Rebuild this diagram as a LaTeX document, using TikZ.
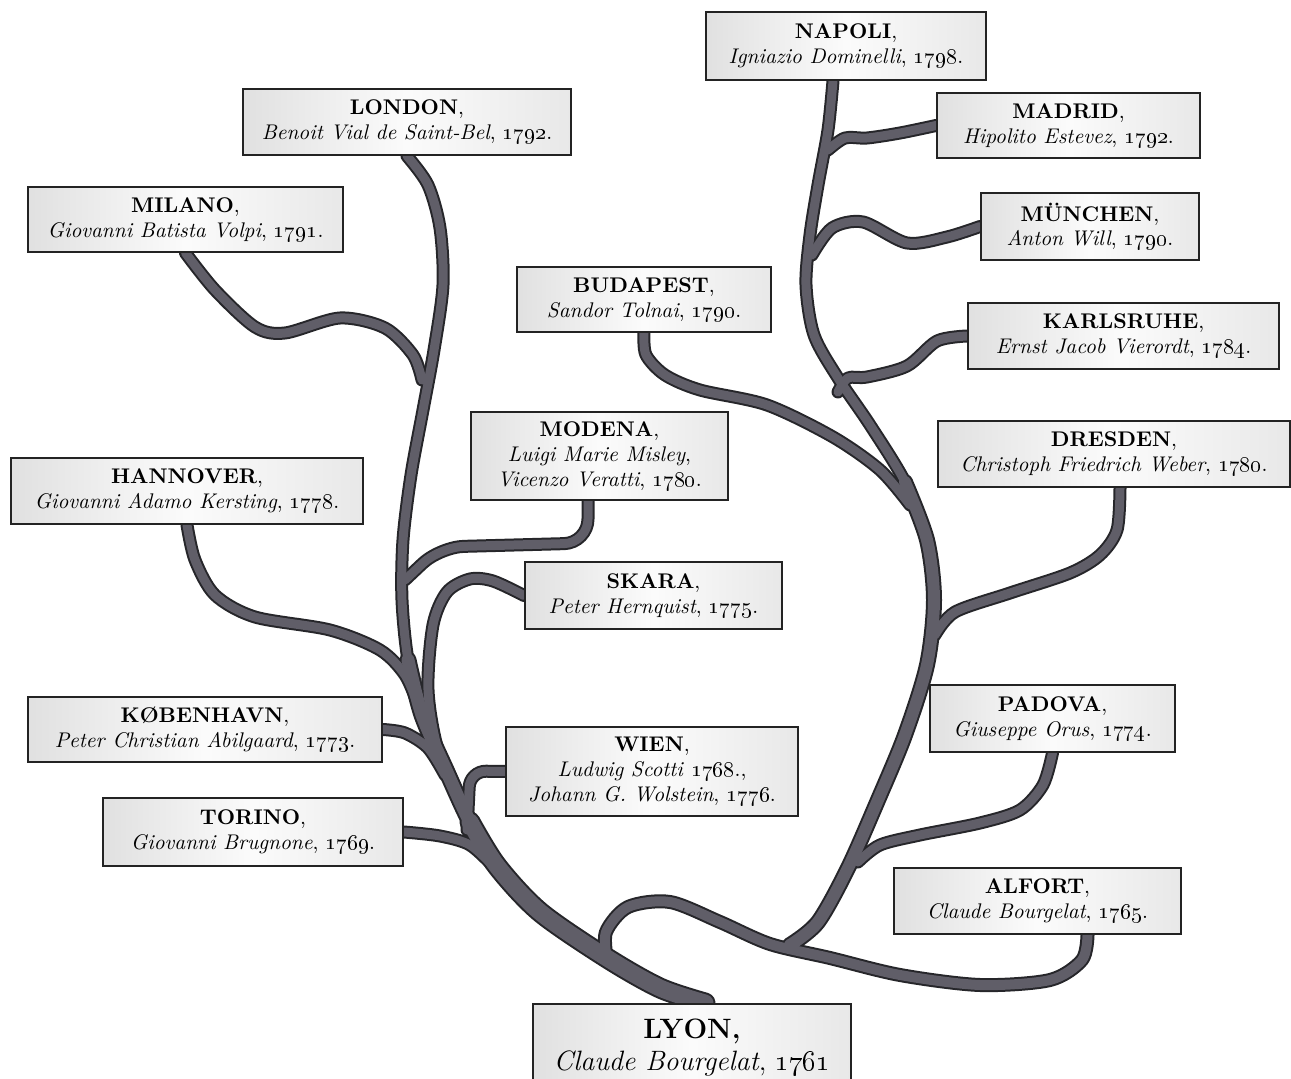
\documentclass[tikz,border=0pt]{standalone}
\usetikzlibrary{backgrounds}
\definecolor{limbfill}{RGB}{96,94,104}
\definecolor{limbedge}{RGB}{38,38,42}
\definecolor{plateedge}{RGB}{35,35,35}
\newcommand\oyear[1]{\oldstylenums{#1}}
\begin{document}
\begin{tikzpicture}[x=0.5pt,y=0.5pt,yscale=-1,
    plate/.style={draw=plateedge, line width=1pt, left color=gray!24, right color=gray!18, middle color=gray!3, align=center, inner sep=0pt, font=\fontsize{10.6}{12.4}\selectfont},
    limb/.style={draw=\tint, line width=(#1+\rim)*0.5pt, line cap=round, line join=round}]
\useasboundingbox (0,0) rectangle (1291,1079);
\clip (0,0) rectangle (1291,1079);
% Plates
\node[plate, minimum width=140pt, minimum height=34pt] (napoli) at (846,46) {\textbf{NAPOLI},\\\textit{Igniazio Dominelli}, \oyear{1798}.};
\node[plate, minimum width=164pt, minimum height=33pt] (london) at (407,122) {\textbf{LONDON},\\\textit{Benoit Vial de Saint-Bel}, \oyear{1792}.};
\node[plate, minimum width=131.5pt, minimum height=32.5pt] (madrid) at (1068.5,125.5) {\textbf{MADRID},\\\textit{Hipolito Estevez}, \oyear{1792}.};
\node[plate, minimum width=157.5pt, minimum height=32.5pt] (milano) at (185.5,219.5) {\textbf{MILANO},\\\textit{Giovanni Batista Volpi}, \oyear{1791}.};
\node[plate, minimum width=109pt, minimum height=33.5pt] (muenchen) at (1090,226.5) {\textbf{MÜNCHEN},\\\textit{Anton Will}, \oyear{1790}.};
\node[plate, minimum width=127pt, minimum height=32.5pt] (budapest) at (644,299.5) {\textbf{BUDAPEST},\\\textit{Sandor Tolnai}, \oyear{1790}.};
\node[plate, minimum width=155.5pt, minimum height=33pt] (karlsruhe) at (1123.5,336) {\textbf{KARLSRUHE},\\\textit{Ernst Jacob Vierordt}, \oyear{1784}.};
\node[plate, minimum width=128.5pt, minimum height=44pt] (modena) at (599.5,456) {\textbf{MODENA},\\\textit{Luigi Marie Misley},\\\textit{Vicenzo Veratti}, \oyear{1780}.};
\node[plate, minimum width=176pt, minimum height=33pt] (dresden) at (1114,454) {\textbf{DRESDEN},\\\textit{Christoph Friedrich Weber}, \oyear{1780}.};
\node[plate, minimum width=176pt, minimum height=33pt] (hannover) at (187,491) {\textbf{HANNOVER},\\\textit{Giovanni Adamo Kersting}, \oyear{1778}.};
\node[plate, minimum width=128.5pt, minimum height=33.5pt] (skara) at (653.5,595.5) {\textbf{SKARA},\\\textit{Peter Hernquist}, \oyear{1775}.};
\node[plate, minimum width=122.5pt, minimum height=33.5pt] (padova) at (1052.5,718.5) {\textbf{PADOVA},\\\textit{Giuseppe Orus}, \oyear{1774}.};
\node[plate, minimum width=177pt, minimum height=32.5pt] (kobenhavn) at (205,729.5) {\textbf{KØBENHAVN},\\\textit{Peter Christian Abilgaard}, \oyear{1773}.};
\node[plate, minimum width=146pt, minimum height=44.5pt] (wien) at (652,771.5) {\textbf{WIEN},\\\textit{Ludwig Scotti} \oyear{1768}.,\\\textit{Johann G. Wolstein}, \oyear{1776}.};
\node[plate, minimum width=150pt, minimum height=34pt] (torino) at (253,832) {\textbf{TORINO},\\\textit{Giovanni Brugnone}, \oyear{1769}.};
\node[plate, minimum width=143.5pt, minimum height=33pt] (alfort) at (1037.5,901) {\textbf{ALFORT},\\\textit{Claude Bourgelat}, \oyear{1765}.};
\node[plate, minimum width=159pt, minimum height=44pt, font=\fontsize{14}{16}\selectfont] (lyon) at (692,1048) {\textbf{LYON,}\\\textit{Claude Bourgelat}, \oyear{1761}};
% Attachment points
\coordinate (napA) at ([xshift=-6.5pt]napoli.south);
\coordinate (modA) at ([xshift=-5.75pt]modena.south);
\coordinate (dreA) at ([xshift=3pt]dresden.south);
\coordinate (alfA) at ([xshift=25pt]alfort.south);
\coordinate (lyoA) at ([xshift=6.5pt]lyon.north);
% Branches
\begin{scope}[on background layer]
\foreach \rim/\tint in {4/limbedge,0/limbfill}{
  % left trunk
  \draw[limb=9] plot[smooth] coordinates {(london.south) (428,185) (440,228) (443,285) (434,350) (423,410) (411,475) (403,540) (402,600) (408,660) (422,715) (446,770) (470,822) (497,866) (540,912) (607,958) (660,988) (lyoA)};
  \draw[limb=13] plot[smooth] coordinates {(408,660) (422,715) (446,770) (470,822) (497,866) (540,912) (607,958) (660,988) (lyoA)};
  \draw[limb=17] plot[smooth] coordinates {(470,822) (497,866) (540,912) (607,958) (660,988) (lyoA)};
  \draw[limb=9] plot[smooth] coordinates {(milano.south) (215,290) (255,327) (285,333) (340,318) (385,328) (413,355) (422,380)};
  \draw[limb=9] plot[smooth] coordinates {(hannover.south) (195,560) (215,595) (255,617) (330,630) (380,650) (405,675) (418,705)};
  \draw[limb=9, rounded corners=12pt] (modA) -- (588,543) -- (440,547) -- (405,580);
  \draw[limb=9] plot[smooth] coordinates {(skara.west) (493,581) (470,579) (447,592) (433,625) (428,690) (438,750) (462,805)};
  \draw[limb=9] plot[smooth] coordinates {(kobenhavn.east) (405,733) (428,748) (445,775)};
  \draw[limb=9, rounded corners=8pt] (wien.west) -- (470,771) -- (467,830);
  \draw[limb=9] plot[smooth] coordinates {(torino.east) (440,836) (470,845) (495,868)};
  % right trunk
  \draw[limb=9] plot[smooth] coordinates {(napA) (828,130) (818,185) (810,235) (806,285) (814,335) (838,378) (870,425) (905,482) (927,540) (934,600) (927,665) (905,735) (878,800) (848,868) (818,922) (790,945)};
  \draw[limb=12] plot[smooth] coordinates {(905,482) (927,540) (934,600) (927,665) (905,735) (878,800) (848,868) (818,922) (790,945)};
  \draw[limb=9] plot[smooth] coordinates {(madrid.west) (900,133) (867,138) (845,138) (828,150)};
  \draw[limb=9] plot[smooth] coordinates {(muenchen.west) (947,237) (907,243) (863,222) (832,228) (812,255)};
  \draw[limb=9] plot[smooth] coordinates {(karlsruhe.west) (937,341) (907,366) (867,377) (848,378) (838,392)};
  \draw[limb=9] plot[smooth] coordinates {(budapest.south) (646,355) (665,375) (700,390) (767,405) (833,437) (880,470) (910,505)};
  \draw[limb=9] plot[smooth] coordinates {(dreA) (1117,530) (1100,555) (1070,573) (1010,593) (955,612) (935,635)};
  \draw[limb=9] plot[smooth] coordinates {(padova.south) (1043,785) (1020,810) (980,823) (920,835) (880,845) (858,862)};
  % lower loop and alfort
  \draw[limb=10] plot[smooth] coordinates {(607,960) (606,932) (628,907) (670,902) (720,922) (770,944) (830,958) (900,975) (980,985) (1050,980) (1082,960) (alfA)};
}
\end{scope}
\end{tikzpicture}
\end{document}
